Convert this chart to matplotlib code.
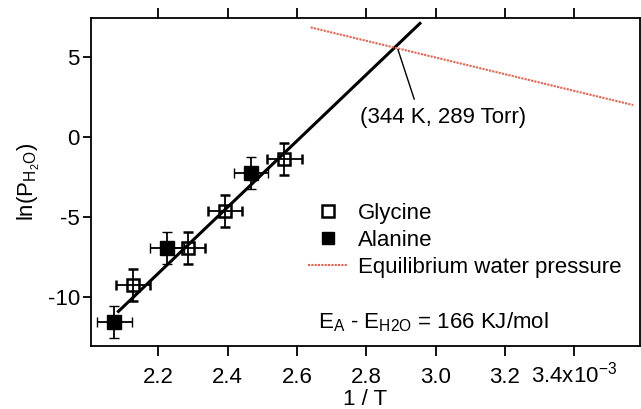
import matplotlib
matplotlib.use("Agg")
import matplotlib.pyplot as plt
from matplotlib.lines import Line2D

plt.rcParams['font.family'] = ['Liberation Sans', 'DejaVu Sans']
plt.rcParams['mathtext.default'] = 'regular'
plt.rcParams['mathtext.fontset'] = 'custom'
plt.rcParams['mathtext.rm'] = 'Liberation Sans'
plt.rcParams['mathtext.it'] = 'Liberation Sans'

# Data (1/T in units of 1e-3 K^-1, ln(P) )
gly_x = [2.127, 2.285, 2.393, 2.564]
gly_y = [-9.25, -6.96, -4.63, -1.39]
ala_x = [2.073, 2.225, 2.468]
ala_y = [-11.56, -6.96, -2.27]
x_err = 0.05
y_err = 1.0
fit_x = [2.085, 2.955]
fit_y = [-10.9, 7.1]
eq_x = [2.64, 3.57]
eq_y = [6.85, 2.0]
cross_pt = (2.889, 5.64)
tick_vals = [2.2, 2.4, 2.6, 2.8, 3.0, 3.2, 3.4]
tick_labels = ['2.2', '2.4', '2.6', '2.8', '3.0', '3.2', '3.4x10$^{-3}$']
ytick_vals = [5, 0, -5, -10]

fig = plt.figure(figsize=(6.41, 4.09), dpi=100)
ax = fig.add_axes([91/641, 1-346/409, 549/641, 328/409])

FS = 16
RED = '#f0604a'
ax.plot(fit_x, fit_y, color='black', lw=2.2, zorder=2)
ax.plot(eq_x, eq_y, color=RED, lw=1.5, ls=(0, (1, 0.6)), zorder=2)

ax.errorbar(gly_x, gly_y, xerr=x_err, yerr=y_err, fmt='s', ms=9, mfc='none',
            mec='black', mew=1.8, ecolor='black', elinewidth=1.3, capsize=3.5,
            capthick=1.3, zorder=3)
ax.errorbar(ala_x, ala_y, xerr=x_err, yerr=y_err, fmt='s', ms=10, mfc='black',
            mec='black', mew=1.0, ecolor='black', elinewidth=1.3, capsize=3.5,
            capthick=1.3, zorder=3)

ax.set_xlim(2.006, 3.59)
ax.set_ylim(-13.06, 7.44)
ax.set_xticks(tick_vals)
ax.set_xticklabels(tick_labels)
ax.set_yticks(ytick_vals)
ax.set_yticklabels(['5', '0', '-5', '-10'])
ax.tick_params(axis='x', which='both', direction='out', top=True, length=7,
               width=1.3, labelsize=FS, pad=19.5)
ax.tick_params(axis='y', direction='out', length=6, width=1.3, labelsize=FS, pad=2)
for lbl in ax.get_xticklabels():
    lbl.set_verticalalignment('baseline')
for s in ax.spines.values():
    s.set_linewidth(1.3)

ax.set_xlabel('1 / T', fontsize=FS, labelpad=1)
ax.set_ylabel('ln(P$_{H_2O}$)', fontsize=FS, labelpad=4)

ax.annotate('(344 K, 289 Torr)', xy=cross_pt, xytext=(3.023, 1.2),
            ha='center', va='center', fontsize=FS,
            arrowprops=dict(arrowstyle='-', color='black', lw=1.0,
                            relpos=(0.34, 1.0), shrinkA=4, shrinkB=2))

handles = [
    Line2D([], [], marker='s', ls='none', ms=8, mfc='white', mec='black', mew=1.8),
    Line2D([], [], marker='s', ls='none', ms=9, mfc='black', mec='black'),
    Line2D([], [], color=RED, lw=1.5, ls=(0, (1, 0.6))),
]
ax.legend(handles, ['Glycine', 'Alanine', 'Equilibrium water pressure'],
          loc='upper left', bbox_to_anchor=((308-91)/549, (346-203)/328),
          frameon=False, fontsize=FS, handlelength=1.8, handletextpad=0.45,
          labelspacing=0.27, borderpad=0, borderaxespad=0)

ax.text((318-91)/549, (346-322)/328, 'E$_A$ - E$_{H2O}$ = 166 KJ/mol',
        transform=ax.transAxes, fontsize=FS, ha='left', va='center')

fig.savefig('out.png', dpi=100)
